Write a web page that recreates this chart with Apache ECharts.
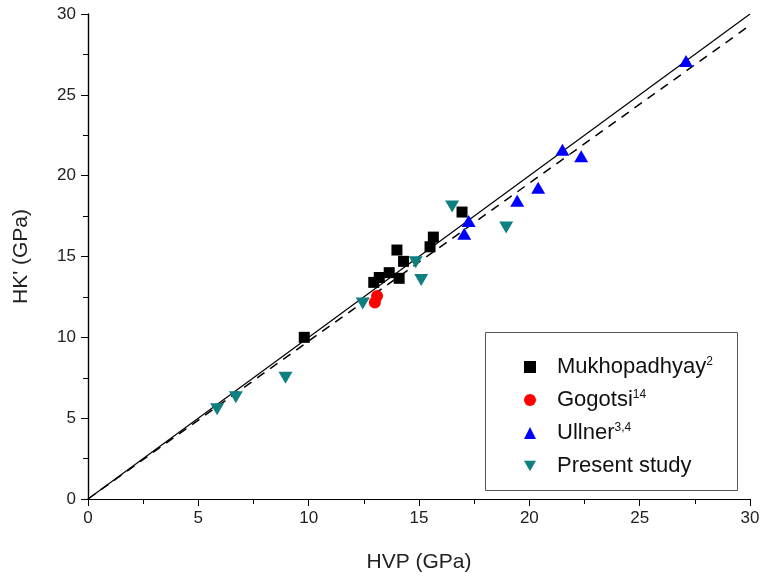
<!DOCTYPE html>
<html><head><meta charset="utf-8">
<script src="https://cdn.jsdelivr.net/npm/echarts@6/dist/echarts.min.js"></script>
<style>html,body{margin:0;padding:0;background:#fff}#c{width:763px;height:581px}</style>
</head><body><div id="c"></div>
<script>
// Data (HVP, HK') in GPa
var mukhopadhyay = [[9.8,10.0],[12.95,13.4],[13.2,13.7],[13.65,14.0],[14.1,13.65],[14.0,15.4],[14.3,14.7],[15.5,15.6],[15.65,16.2],[16.95,17.75]];
var gogotsi = [[13.0,12.15],[13.1,12.55]];
var ullner = [[17.05,16.4],[17.25,17.2],[19.45,18.45],[20.4,19.25],[21.5,21.6],[22.35,21.2],[27.1,27.1]];
var present = [[5.85,5.55],[6.7,6.3],[8.95,7.5],[12.45,12.1],[14.85,14.65],[15.1,13.55],[16.5,18.1],[18.95,16.8]];
var idealLine = [[0,0],[30,30]];
var fitLine = [[0,0],[30,29.3]];
var xTicks = [0,5,10,15,20,25,30];
var yTicks = [0,5,10,15,20,25,30];

var FONT = 'Liberation Sans, Arial, sans-serif';
var chart = echarts.init(document.getElementById('c'));
var downTri = 'path://M0,0 L10,0 L5,8.66 Z';
var labelStyle = {fontFamily: FONT, fontSize: 17, color: '#222'};
function axisCommon(extra){
  return Object.assign({
    type:'value', min:xTicks[0], max:xTicks[xTicks.length-1], interval:5,
    axisLine:{show:true, lineStyle:{color:'#000', width:1.2}},
    splitLine:{show:false}
  }, extra);
}
chart.setOption({
  animation:false,
  backgroundColor:'#fff',
  grid:{left:88, top:14, width:662, height:485, containLabel:false},
  xAxis:[
    axisCommon({position:'bottom', name:'HVP (GPa)', nameLocation:'middle', nameGap:53,
      nameTextStyle:{fontFamily:FONT, fontSize:21, color:'#222'},
      axisTick:{show:true, inside:false, length:7, lineStyle:{color:'#000'}},
      minorTick:{show:true, splitNumber:2, length:5, lineStyle:{color:'#000'}},
      axisLabel:Object.assign({margin:11}, labelStyle)}),
    axisCommon({position:'top', axisTick:{show:true, inside:true, length:7, lineStyle:{color:'#000'}},
      minorTick:{show:true, splitNumber:2, length:5, lineStyle:{color:'#000'}},
      axisLabel:{show:false}})
  ],
  yAxis:[
    axisCommon({position:'left', min:yTicks[0], max:yTicks[yTicks.length-1], name:"HK' (GPa)", nameLocation:'middle', nameGap:56,
      nameTextStyle:{fontFamily:FONT, fontSize:21, color:'#222'},
      axisTick:{show:true, inside:false, length:7, lineStyle:{color:'#000'}},
      minorTick:{show:true, splitNumber:2, length:5, lineStyle:{color:'#000'}},
      axisLabel:Object.assign({margin:12}, labelStyle)}),
    axisCommon({position:'right', min:yTicks[0], max:yTicks[yTicks.length-1],
      axisTick:{show:true, inside:true, length:7, lineStyle:{color:'#000'}},
      minorTick:{show:true, splitNumber:2, length:5, lineStyle:{color:'#000'}},
      axisLabel:{show:false}})
  ],
  legend:{
    orient:'vertical', left:519, top:351, itemWidth:12, itemHeight:12, itemGap:11,
    data:['Mukhopadhyay','Gogotsi','Ullner','Present study'],
    formatter:function(n){
      var sup = {'Mukhopadhyay':'2','Gogotsi':'14','Ullner':'3,4','Present study':''}[n];
      return '{t|'+n+'}' + (sup ? '{s|'+sup+'}' : '');
    },
    textStyle:{padding:[0,0,0,16], rich:{
      t:{fontFamily:FONT, fontSize:22, color:'#111', lineHeight:22, verticalAlign:'bottom'},
      s:{fontFamily:FONT, fontSize:12, color:'#111', lineHeight:22, verticalAlign:'top'}
    }}
  },
  graphic:[{type:'rect', left:483, top:330, shape:{width:252, height:158},
    style:{fill:'none', stroke:'#555', lineWidth:1}, z:100}],
  series:[
    {type:'line', data:idealLine, showSymbol:false, symbol:'none', silent:true,
      lineStyle:{color:'#000', width:1.2, type:'solid'}, z:1},
    {type:'line', data:fitLine, showSymbol:false, symbol:'none', silent:true,
      lineStyle:{color:'#000', width:1.5, type:[9,7]}, z:1},
    {name:'Mukhopadhyay', type:'scatter', data:mukhopadhyay, symbol:'rect', symbolSize:11,
      itemStyle:{color:'#000', opacity:1}, z:3},
    {name:'Gogotsi', type:'scatter', data:gogotsi, symbol:'circle', symbolSize:12,
      itemStyle:{color:'#ff0000', opacity:1}, z:3},
    {name:'Ullner', type:'scatter', data:ullner, symbol:'triangle', symbolSize:[14,12],
      itemStyle:{color:'#0000ff', opacity:1}, z:3},
    {name:'Present study', type:'scatter', data:present, symbol:downTri, symbolSize:[14,12],
      itemStyle:{color:'#0e8080', opacity:1}, z:3}
  ]
});
</script></body></html>
